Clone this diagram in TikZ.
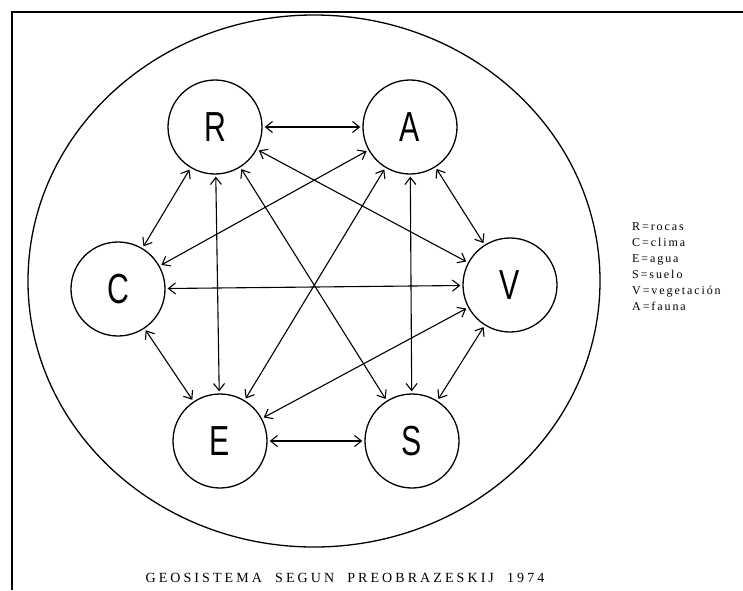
\documentclass[tikz,border=0pt]{standalone}
\usepackage{fontspec}
\setmainfont{Liberation Serif}
\newfontfamily\handfont{Liberation Sans}[FakeStretch=0.72]
\usetikzlibrary{arrows.meta}
\begin{document}
\begin{tikzpicture}[x=1pt,y=-1pt,
 elem/.style={circle,draw,line width=1.3pt,minimum size=94pt,inner sep=0pt,font=\handfont\fontsize{42}{42}\selectfont},
 link/.style={line width=1.1pt,{Straight Barb[length=7pt,width=11pt]}-{Straight Barb[length=7pt,width=11pt]},shorten >=2pt,shorten <=2pt},
 legend/.style={anchor=base west,inner sep=0pt,font=\fontsize{12}{12}\selectfont\addfontfeature{LetterSpace=16}},
 frame/.style={line width=2pt},
 outer/.style={line width=1.3pt}]
\useasboundingbox (0,0) rectangle (743,590);
\coordinate (f1) at (12,590);
\coordinate (f2) at (12,12);
\coordinate (f3) at (743,12);
\draw[frame] (f1) -- (f2) -- (f3);
\draw[outer] (314,281) ellipse [x radius=286, y radius=266];
\node[elem] (R) at (215,127) {R};
\node[elem] (A) at (410,127) {A};
\node[elem] (C) at (118,289) {C};
\node[elem] (V) at (510,285) {V};
\node[elem] (E) at (220,441) {E};
\node[elem] (S) at (412,441) {S};
\draw[link] (R) -- (A);
\draw[link] (R) -- (C);
\draw[link] (R) -- (E);
\draw[link] (R) -- (S);
\draw[link] (R) -- (V);
\draw[link] (A) -- (C);
\draw[link] (A) -- (E);
\draw[link] (A) -- (S);
\draw[link] (A) -- (V);
\draw[link] (C) -- (V);
\draw[link] (C) -- (E);
\draw[link] (E) -- (S);
\draw[link] (E) -- (V);
\draw[link] (S) -- (V);
\node[legend] (l1) at (632,230) {R=rocas};
\node[legend] (l2) at (632,246) {C=clima};
\node[legend] (l3) at (632,262) {E=agua};
\node[legend] (l4) at (632,278) {S=suelo};
\node[legend] (l5) at (632,294) {V=vegetación};
\node[legend] (l6) at (632,310) {A=fauna};
\node[inner sep=0pt,font=\fontsize{14}{14}\selectfont\addfontfeature{LetterSpace=22}] (title) at (345,578) {GEOSISTEMA\ \ SEGUN\ \ PREOBRAZESKIJ\ \ 1974};
\end{tikzpicture}
\end{document}
